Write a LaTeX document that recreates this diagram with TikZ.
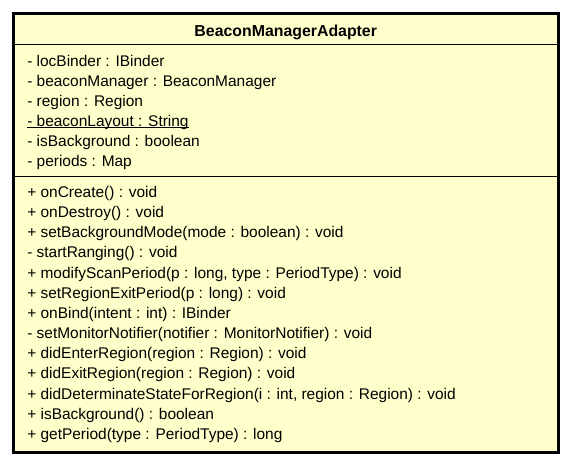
\documentclass[tikz,border=0pt]{standalone}
\usepackage{fontspec}
\setmainfont{Liberation Sans}
\usetikzlibrary{positioning,calc}

\definecolor{classfill}{RGB}{255,255,204}

\tikzset{
  member/.style={anchor=base west, inner sep=0pt, font=\fontsize{11.6}{13}\selectfont},
  classname/.style={anchor=base, inner sep=0pt, font=\fontsize{11.9}{13}\selectfont\bfseries}
}

\begin{document}
\begin{tikzpicture}[x=0.75pt,y=0.75pt,yscale=-1,xscale=1]
\useasboundingbox (0,0) rectangle (572,465);

%Shape: Class box
\draw  [fill=classfill, line width=2.25pt] (13.5,13.5) rectangle (558,452.5) ;
%Straight Lines: compartments
\draw  [line width=0.75pt] (13.5,44) -- (558,44) ;
\draw  [line width=0.75pt] (13.5,176) -- (558,176) ;

% Title
\node [classname] (title) at (285.75,36.5) {BeaconManagerAdapter};

% Attributes
\node [member] (att1) at (27,66.7) {- locBinder : IBinder};
\node [member] (att2) at (27,86.7) {- beaconManager : BeaconManager};
\node [member] (att3) at (27,106.7) {- region : Region};
\node [member] (att4) at (27,126.7) {- beaconLayout : String};
\node [member] (att5) at (27,146.7) {- isBackground : boolean};
\node [member] (att6) at (27,166.7) {- periods : Map};
% static underline
\draw  [line width=0.75pt] ($(att4.base west)+(0,1.2)$) -- ($(att4.base east)+(0,1.2)$) ;

% Operations
\node [member] (op1) at (27,197.3) {+ onCreate() : void};
\node [member] (op2) at (27,217.5) {+ onDestroy() : void};
\node [member] (op3) at (27,237.6) {+ setBackgroundMode(mode : boolean) : void};
\node [member] (op4) at (27,257.8) {- startRanging() : void};
\node [member] (op5) at (27,278.0) {+ modifyScanPeriod(p : long, type : PeriodType) : void};
\node [member] (op6) at (27,298.1) {+ setRegionExitPeriod(p : long) : void};
\node [member] (op7) at (27,318.3) {+ onBind(intent : int) : IBinder};
\node [member] (op8) at (27,338.5) {- setMonitorNotifier(notifier : MonitorNotifier) : void};
\node [member] (op9) at (27,358.7) {+ didEnterRegion(region : Region) : void};
\node [member] (op10) at (27,378.8) {+ didExitRegion(region : Region) : void};
\node [member] (op11) at (27,399.0) {+ didDeterminateStateForRegion(i : int, region : Region) : void};
\node [member] (op12) at (27,419.2) {+ isBackground() : boolean};
\node [member] (op13) at (27,439.3) {+ getPeriod(type : PeriodType) : long};

\end{tikzpicture}
\end{document}
